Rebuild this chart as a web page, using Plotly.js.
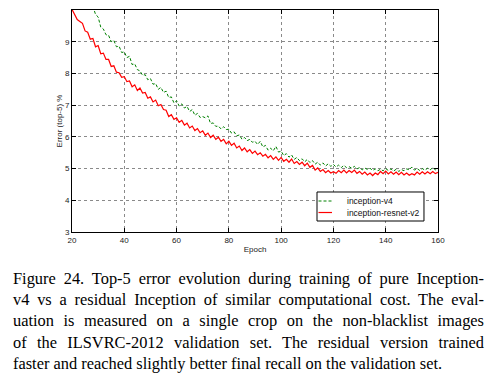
<!DOCTYPE html>
<html>
<head>
<meta charset="utf-8">
<script src="https://cdn.plot.ly/plotly-3.0.1.min.js"></script>
<style>
  html, body { margin: 0; padding: 0; background: #fff; }
  #wrap { position: relative; width: 487px; height: 386px; overflow: hidden; }
  #chart { position: absolute; left: 0; top: 0; width: 487px; height: 386px; }
  .cap { position: absolute; left: 13px; width: 471px; font-family: "Liberation Serif", "Times New Roman", serif;
         font-size: 16.4px; line-height: 21.2px; color: #000; white-space: nowrap; }
  .just { text-align: justify; text-align-last: justify; white-space: normal; }
</style>
</head>
<body>
<div id="wrap">
  <div id="chart"></div>
  <div id="caption"></div>
</div>
<script>
// ---- data ----
const epochsRes = [20,21,22,23,24,25,26,27,28,29,30,31,32,33,34,35,36,37,38,39,40,41,42,43,44,45,46,47,48,49,50,51,52,53,54,55,56,57,58,59,60,61,62,63,64,65,66,67,68,69,70,71,72,73,74,75,76,77,78,79,80,81,82,83,84,85,86,87,88,89,90,91,92,93,94,95,96,97,98,99,100,101,102,103,104,105,106,107,108,109,110,111,112,113,114,115,116,117,118,119,120,121,122,123,124,125,126,127,128,129,130,131,132,133,134,135,136,137,138,139,140,141,142,143,144,145,146,147,148,149,150,151,152,153,154,155,156,157,158,159,160];
const errorResnetV2 = [10.02,9.86,9.70,9.64,9.58,9.34,9.30,9.08,9.10,8.84,8.88,8.62,8.64,8.44,8.44,8.22,8.24,8.04,8.02,7.88,7.90,7.74,7.76,7.58,7.64,7.46,7.54,7.38,7.40,7.22,7.26,7.10,7.16,6.98,7.02,6.86,6.84,6.64,6.70,6.55,6.60,6.46,6.52,6.37,6.43,6.28,6.34,6.20,6.26,6.13,6.19,6.05,6.12,5.98,6.05,5.92,5.99,5.86,5.92,5.78,5.86,5.73,5.80,5.65,5.71,5.57,5.65,5.53,5.60,5.48,5.55,5.44,5.50,5.39,5.45,5.34,5.41,5.29,5.37,5.26,5.35,5.23,5.29,5.20,5.30,5.16,5.22,5.13,5.20,5.09,5.17,5.04,5.10,4.95,5.02,4.91,4.97,4.87,4.94,4.86,4.90,4.85,4.94,4.87,4.95,4.86,4.94,4.88,4.95,4.85,4.91,4.82,4.89,4.80,4.86,4.78,4.86,4.81,4.91,4.84,4.92,4.83,4.90,4.82,4.89,4.81,4.88,4.80,4.86,4.79,4.84,4.80,4.89,4.82,4.90,4.83,4.90,4.84,4.91,4.84,4.88];
const epochsV4 = [28,29,30,31,32,33,34,35,36,37,38,39,40,41,42,43,44,45,46,47,48,49,50,51,52,53,54,55,56,57,58,59,60,61,62,63,64,65,66,67,68,69,70,71,72,73,74,75,76,77,78,79,80,81,82,83,84,85,86,87,88,89,90,91,92,93,94,95,96,97,98,99,100,101,102,103,104,105,106,107,108,109,110,111,112,113,114,115,116,117,118,119,120,121,122,123,124,125,126,127,128,129,130,131,132,133,134,135,136,137,138,139,140,141,142,143,144,145,146,147,148,149,150,151,152,153,154,155,156,157,158,159,160];
const errorV4 = [10.12,9.86,9.78,9.46,9.40,9.22,9.20,9.00,9.04,8.84,8.86,8.66,8.68,8.50,8.54,8.28,8.30,8.12,8.08,7.94,7.96,7.80,7.84,7.66,7.68,7.50,7.56,7.40,7.44,7.24,7.26,7.07,7.14,6.97,7.04,6.91,6.96,6.80,6.86,6.68,6.74,6.61,6.64,6.60,6.66,6.42,6.44,6.33,6.34,6.25,6.32,6.23,6.24,6.12,6.16,6.03,6.06,5.93,5.98,5.88,5.92,5.83,5.86,5.76,5.86,5.68,5.73,5.58,5.64,5.56,5.70,5.52,5.55,5.41,5.47,5.36,5.43,5.29,5.35,5.25,5.31,5.21,5.29,5.19,5.25,5.14,5.20,5.11,5.18,5.08,5.15,5.07,5.13,5.05,5.11,5.03,5.10,5.03,5.06,5.01,5.07,4.99,5.03,4.96,5.02,4.97,5.01,4.94,4.99,4.93,4.98,4.93,5.00,4.94,4.99,4.92,4.98,4.91,4.97,4.93,4.99,4.96,5.05,4.95,5.00,4.94,5.00,4.95,5.01,4.96,5.03,4.96,5.00];
const xTicks = [20,40,60,80,100,120,140,160];
const yTicks = [3,4,5,6,7,8,9];
const seriesNames = ["inception-v4", "inception-resnet-v2"];
const seriesColors = ["#008000", "#ff0000"];
const captionLines = [
  "Figure 24. Top-5 error evolution during training of pure Inception-",
  "v4 vs a residual Inception of similar computational cost. The eval-",
  "uation is measured on a single crop on the non-blacklist images",
  "of the ILSVRC-2012 validation set.  The residual version trained",
  "faster and reached slightly better final recall on the validation set."
];

// ---- caption ----
const cap = document.getElementById('caption');
captionLines.forEach((t, i) => {
  const d = document.createElement('div');
  d.className = 'cap' + (i < captionLines.length - 1 ? ' just' : '');
  d.style.top = (268 + i * 21.2) + 'px';
  d.textContent = t;
  cap.appendChild(d);
});

// ---- chart ----
const FONT = 'Liberation Sans, Arial, sans-serif';
const traces = [
  { x: epochsV4, y: errorV4, name: seriesNames[0], type: 'scatter', mode: 'lines',
    line: { color: seriesColors[0], width: 1, dash: '3px,2px' } },
  { x: epochsRes, y: errorResnetV2, name: seriesNames[1], type: 'scatter', mode: 'lines',
    line: { color: seriesColors[1], width: 1.2 } }
];

const axisCommon = {
  showline: true, linecolor: '#000', linewidth: 1, mirror: 'ticks',
  ticks: 'inside', ticklen: 4, tickcolor: '#000', tickwidth: 1,
  showgrid: true, gridcolor: '#8a8a8a', griddash: 'dot', gridwidth: 1,
  zeroline: false, tickfont: { family: FONT, size: 8, color: '#222' },
  automargin: false
};

// legend box (paper coordinates of the plot area)
const legendShapes = [
  { type: 'rect', xref: 'paper', yref: 'paper', x0: 0.6694, x1: 0.9617, y0: 0.0495, y1: 0.1802,
    line: { color: '#000', width: 1 }, fillcolor: '#fff', layer: 'above' },
  { type: 'line', xref: 'paper', yref: 'paper', x0: 0.6735, x1: 0.7104, y0: 0.1396, y1: 0.1396,
    line: { color: seriesColors[0], width: 1, dash: '3px,2px' }, layer: 'above' },
  { type: 'line', xref: 'paper', yref: 'paper', x0: 0.6735, x1: 0.7104, y0: 0.0878, y1: 0.0878,
    line: { color: seriesColors[1], width: 1.2 }, layer: 'above' }
];
const legendTexts = [
  { text: seriesNames[0], xref: 'paper', yref: 'paper', x: 0.7459, y: 0.1396, xanchor: 'left', yanchor: 'middle',
    showarrow: false, font: { family: FONT, size: 8.5, color: '#111' } },
  { text: seriesNames[1], xref: 'paper', yref: 'paper', x: 0.7459, y: 0.0878, xanchor: 'left', yanchor: 'middle',
    showarrow: false, font: { family: FONT, size: 8.5, color: '#111' } }
];

const layout = {
  width: 487, height: 386,
  margin: { l: 72, r: 49, t: 10, b: 154 },
  paper_bgcolor: 'rgba(0,0,0,0)', plot_bgcolor: '#fff',
  showlegend: false,
  shapes: legendShapes,
  annotations: legendTexts,
  xaxis: Object.assign({}, axisCommon, {
    range: [20, 160], tickvals: xTicks, ticktext: xTicks.map(String),
    title: { text: 'Epoch', standoff: 2, font: { family: FONT, size: 8, color: '#222' } }
  }),
  yaxis: Object.assign({}, axisCommon, {
    range: [3, 10], tickvals: yTicks, ticktext: yTicks.map(String),
    title: { text: 'Error (top-5) %', standoff: 1, font: { family: FONT, size: 8, color: '#222' } }
  })
};

Plotly.newPlot('chart', traces, layout, { staticPlot: true, displayModeBar: false });
</script>
</body>
</html>
